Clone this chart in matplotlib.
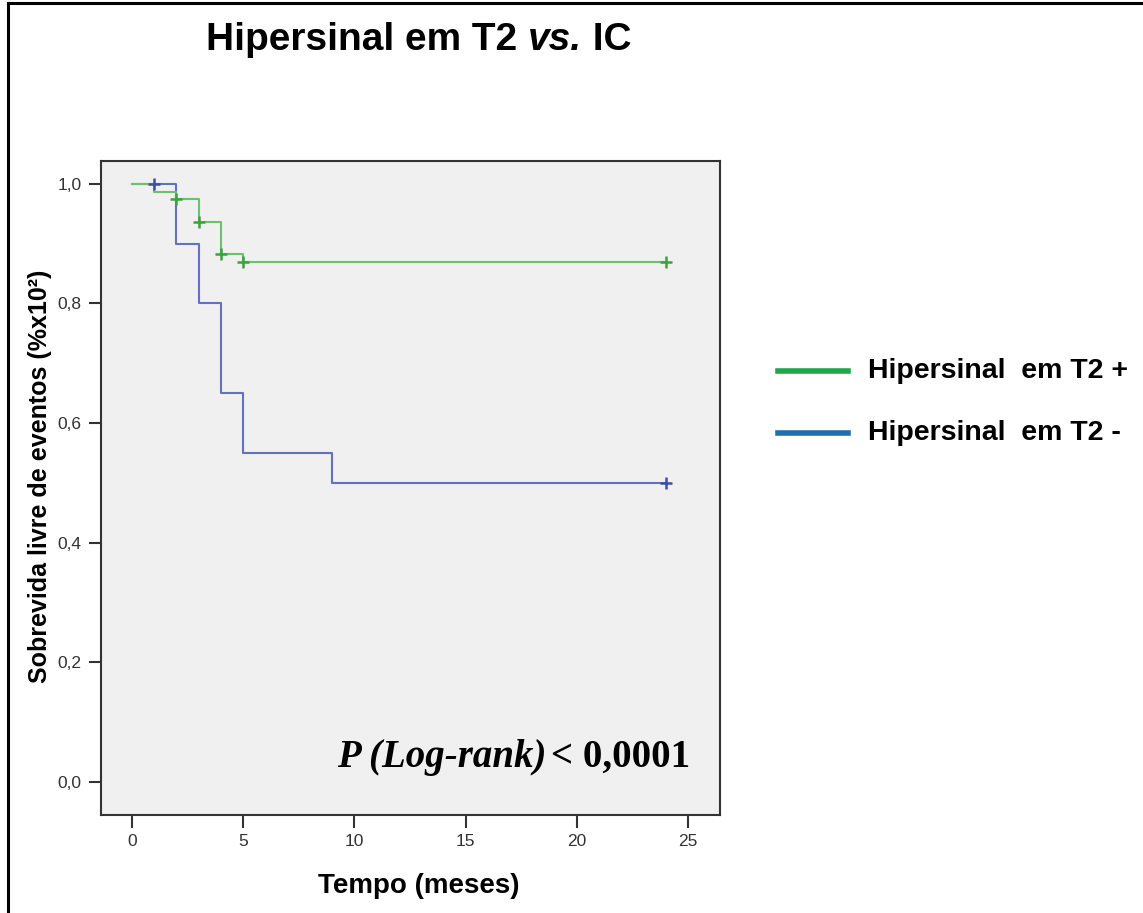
import matplotlib
matplotlib.use("Agg")
import matplotlib.pyplot as plt
from matplotlib.lines import Line2D

# ---- data ----
time_pos = [0, 1, 2, 3, 4, 5, 24]
surv_pos = [1.0, 0.987, 0.975, 0.936, 0.883, 0.870, 0.870]
cens_pos_t = [2, 3, 4, 5, 24]
cens_pos_s = [0.975, 0.936, 0.883, 0.870, 0.870]

time_neg = [0, 2, 3, 4, 5, 9, 24]
surv_neg = [1.0, 0.9, 0.8, 0.65, 0.55, 0.5, 0.5]
cens_neg_t = [1, 24]
cens_neg_s = [1.0, 0.5]

xticks = [0, 5, 10, 15, 20, 25]
yticks = [0.0, 0.2, 0.4, 0.6, 0.8, 1.0]
ytick_labels = ["0,0", "0,2", "0,4", "0,6", "0,8", "1,0"]
legend_labels = ["Hipersinal  em T2 +", "Hipersinal  em T2 -"]
title_parts = ["Hipersinal em T2 ", "vs.", " IC"]

W, H = 1143, 913
plt.rcParams['font.family'] = ['Liberation Sans', 'DejaVu Sans']
fig = plt.figure(figsize=(W / 100, H / 100), dpi=100)

AX_L, AX_R, AX_T, AX_B = 101, 720, 161, 815
ax = fig.add_axes([AX_L / W, 1 - AX_B / H, (AX_R - AX_L) / W, (AX_B - AX_T) / H])
ax.set_facecolor('#f0f0f0')

c_pos = '#6cc26c'
c_neg = '#6472bb'
ax.step(time_neg, surv_neg, where='post', color=c_neg, lw=1.5, zorder=2)
ax.step(time_pos, surv_pos, where='post', color=c_pos, lw=1.5, zorder=3)
ax.plot(cens_neg_t, cens_neg_s, ls='none', marker='+', ms=9, mew=1.8, color='#3f4f9f', zorder=4)
ax.plot(cens_pos_t, cens_pos_s, ls='none', marker='+', ms=9, mew=1.8, color='#3fa03f', zorder=4)

ax.set_xlim(-1.39, 26.44)
ax.set_ylim(-0.055, 1.038)
ax.set_xticks(xticks)
ax.set_xticklabels([str(v) for v in xticks])
ax.set_yticks(yticks)
ax.set_yticklabels(ytick_labels)
ax.tick_params(axis='both', direction='out', length=9, width=1.5, color='#333333',
               labelsize=12.5, labelcolor='#333333', pad=5)
for s in ax.spines.values():
    s.set_color('#333333')
    s.set_linewidth(1.5)

ax.set_xlabel("Tempo (meses)", fontsize=20, fontweight='bold', va='center')
ax.xaxis.set_label_coords((419 - AX_L) / (AX_R - AX_L), (AX_B - 886) / (AX_B - AX_T))
ax.set_ylabel("Sobrevida livre de eventos (%x10²)", fontsize=18, fontweight='bold', va='center')
ax.yaxis.set_label_coords((40 - AX_L) / (AX_R - AX_L), (AX_B - 476) / (AX_B - AX_T))

fig.canvas.draw()
r = fig.canvas.get_renderer()

# title with italic "vs."
ty = 1 - 40 / H
pieces = []
x = 0
for i, part in enumerate(title_parts):
    t = fig.text(x, ty, part, fontsize=28, fontweight='bold',
                 style='italic' if i == 1 else 'normal', ha='left', va='center')
    bb = t.get_window_extent(r)
    x = bb.x1 / W
    pieces.append(t)
total = x
shift = 419 / W - total / 2
for t in pieces:
    px, py = t.get_position()
    t.set_position((px + shift, py))

# p-value annotation
serif = ['Liberation Serif', 'DejaVu Serif']
py_ = 1 - 757 / H
p2 = fig.text(690 / W, py_, "< 0,0001", fontsize=28, fontweight='bold',
              family=serif, ha='right', va='center')
bb3 = p2.get_window_extent(r)
fig.text((bb3.x0 - 4) / W, py_, "P (Log-rank)", fontsize=28, fontweight='bold',
         style='italic', family=serif, ha='right', va='center')

# legend
leg_items = [(legend_labels[0], '#1ea84a', 371), (legend_labels[1], '#1f6fb0', 433)]
for lab, col, yy in leg_items:
    fig.add_artist(Line2D([778 / W, 848 / W], [1 - yy / H, 1 - yy / H], color=col, lw=4,
                          transform=fig.transFigure))
    fig.text(868 / W, 1 - yy / H, lab, fontsize=20.5, fontweight='bold', ha='left', va='center')

# figure frame (left and top)
fig.add_artist(Line2D([7.5 / W, 7.5 / W], [0, 1 - 3.5 / H], color='black', lw=2.2,
                      transform=fig.transFigure))
fig.add_artist(Line2D([7.5 / W, 1], [1 - 3.5 / H, 1 - 3.5 / H], color='black', lw=2.2,
                      transform=fig.transFigure))

fig.savefig("out.png", dpi=100, facecolor='white')
